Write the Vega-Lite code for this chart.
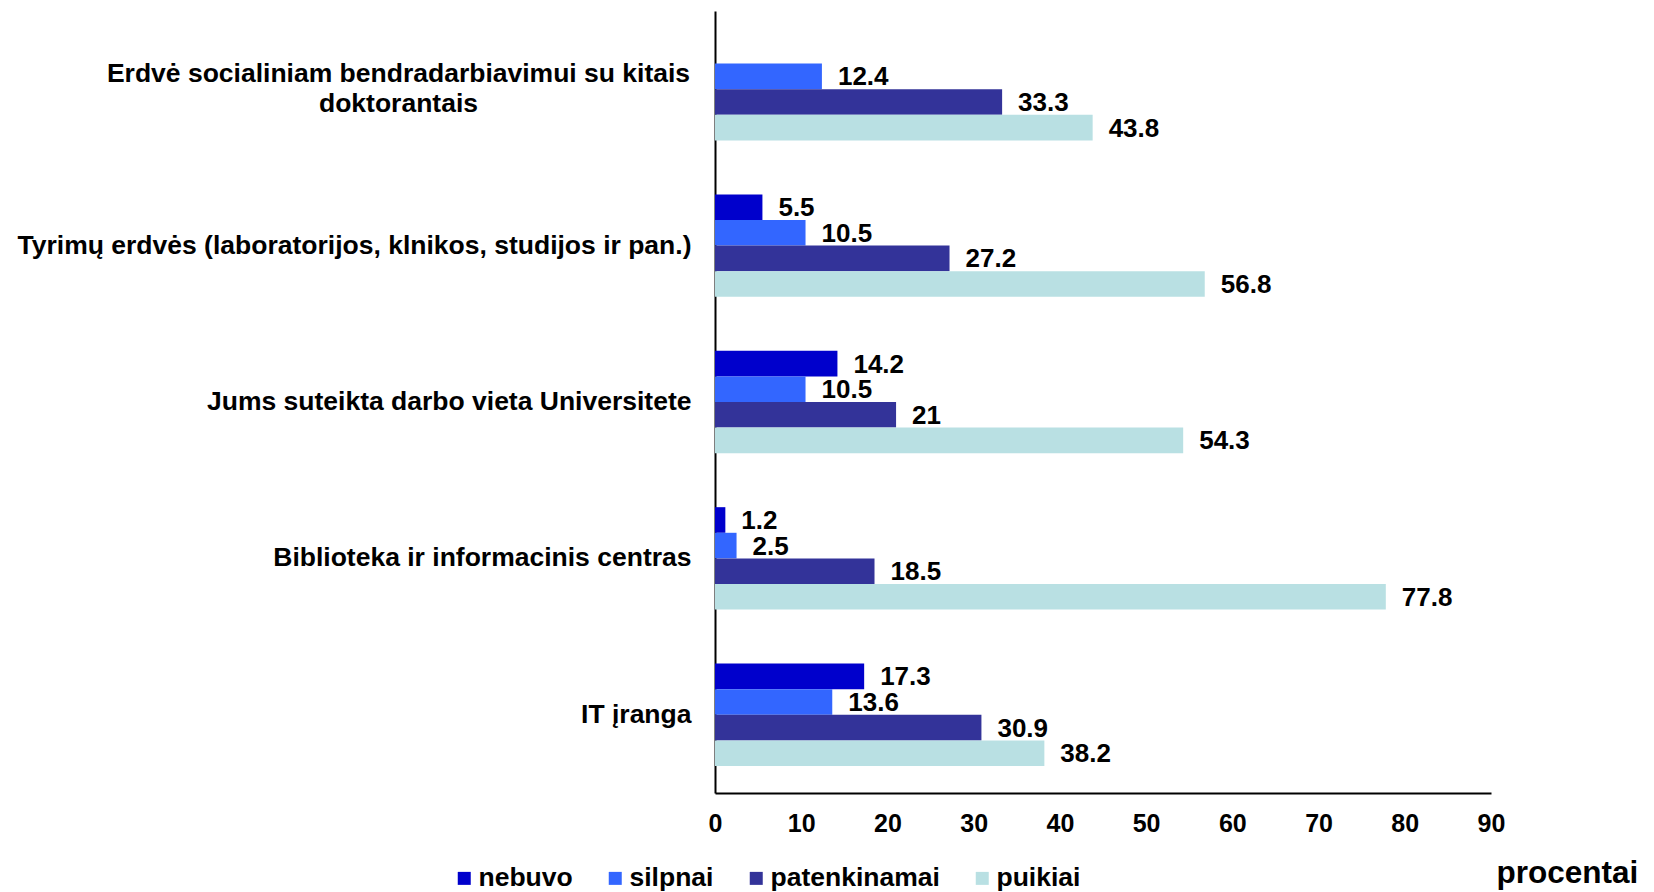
{
  "$schema": "https://vega.github.io/schema/vega-lite/v6.json",
  "width": 776,
  "height": 782,
  "autosize": {"type": "none"},
  "padding": {"left": 715, "top": 11, "right": 163, "bottom": 99},
  "background": "white",
  "config": {
    "view": {"stroke": null},
    "font": "Liberation Sans"
  },
  "data": {
    "values": [
      {"kategorija": "Erdvė socialiniam bendradarbiavimui su kitais doktorantais", "vertinimas": "silpnai", "procentai": 12.4},
      {"kategorija": "Erdvė socialiniam bendradarbiavimui su kitais doktorantais", "vertinimas": "patenkinamai", "procentai": 33.3},
      {"kategorija": "Erdvė socialiniam bendradarbiavimui su kitais doktorantais", "vertinimas": "puikiai", "procentai": 43.8},
      {"kategorija": "Tyrimų erdvės (laboratorijos, klnikos, studijos ir pan.)", "vertinimas": "nebuvo", "procentai": 5.5},
      {"kategorija": "Tyrimų erdvės (laboratorijos, klnikos, studijos ir pan.)", "vertinimas": "silpnai", "procentai": 10.5},
      {"kategorija": "Tyrimų erdvės (laboratorijos, klnikos, studijos ir pan.)", "vertinimas": "patenkinamai", "procentai": 27.2},
      {"kategorija": "Tyrimų erdvės (laboratorijos, klnikos, studijos ir pan.)", "vertinimas": "puikiai", "procentai": 56.8},
      {"kategorija": "Jums suteikta darbo vieta Universitete", "vertinimas": "nebuvo", "procentai": 14.2},
      {"kategorija": "Jums suteikta darbo vieta Universitete", "vertinimas": "silpnai", "procentai": 10.5},
      {"kategorija": "Jums suteikta darbo vieta Universitete", "vertinimas": "patenkinamai", "procentai": 21},
      {"kategorija": "Jums suteikta darbo vieta Universitete", "vertinimas": "puikiai", "procentai": 54.3},
      {"kategorija": "Biblioteka ir informacinis centras", "vertinimas": "nebuvo", "procentai": 1.2},
      {"kategorija": "Biblioteka ir informacinis centras", "vertinimas": "silpnai", "procentai": 2.5},
      {"kategorija": "Biblioteka ir informacinis centras", "vertinimas": "patenkinamai", "procentai": 18.5},
      {"kategorija": "Biblioteka ir informacinis centras", "vertinimas": "puikiai", "procentai": 77.8},
      {"kategorija": "IT įranga", "vertinimas": "nebuvo", "procentai": 17.3},
      {"kategorija": "IT įranga", "vertinimas": "silpnai", "procentai": 13.6},
      {"kategorija": "IT įranga", "vertinimas": "patenkinamai", "procentai": 30.9},
      {"kategorija": "IT įranga", "vertinimas": "puikiai", "procentai": 38.2}
    ]
  },
  "encoding": {
    "y": {
      "field": "kategorija",
      "type": "nominal",
      "sort": null,
      "scale": {
        "domain": [
          "Erdvė socialiniam bendradarbiavimui su kitais doktorantais",
          "Tyrimų erdvės (laboratorijos, klnikos, studijos ir pan.)",
          "Jums suteikta darbo vieta Universitete",
          "Biblioteka ir informacinis centras",
          "IT įranga"
        ],
        "paddingInner": 0.345,
        "paddingOuter": 0.1725
      },
      "axis": {
        "title": null,
        "domainColor": "black",
        "domainWidth": 2,
        "ticks": false,
        "labelFont": "Liberation Sans",
        "labelFontWeight": "bold",
        "labelFontSize": 26.5,
        "labelColor": "black",
        "labelLimit": 900,
        "labelLineHeight": 30,
        "labelExpr": "datum.label == 'Erdvė socialiniam bendradarbiavimui su kitais doktorantais' ? ['Erdvė socialiniam bendradarbiavimui su kitais', 'doktorantais'] : datum.label",
        "labelAlign": {"condition": {"test": "indexof(datum.label, 'Erdvė') == 0", "value": "center"}, "value": "right"},
        "labelPadding": {"condition": {"test": "indexof(datum.label, 'Erdvė') == 0", "value": 317}, "value": 24},
        "labelOffset": {"condition": {"test": "indexof(datum.label, 'Erdvė') == 0", "value": -15}, "value": 0},
        "labelBaseline": "middle"
      }
    },
    "yOffset": {
      "field": "vertinimas",
      "type": "nominal",
      "scale": {"domain": ["nebuvo", "silpnai", "patenkinamai", "puikiai"], "paddingInner": 0, "paddingOuter": 0}
    },
    "x": {
      "field": "procentai",
      "type": "quantitative",
      "scale": {"domain": [0, 90], "nice": false, "zero": true},
      "axis": {
        "values": [0, 10, 20, 30, 40, 50, 60, 70, 80, 90],
        "grid": false,
        "ticks": false,
        "domainColor": "black",
        "domainWidth": 2,
        "labelFont": "Liberation Sans",
        "labelFontWeight": "bold",
        "labelFontSize": 25,
        "labelColor": "black",
        "labelPadding": 18,
        "labelFlush": false,
        "title": "procentai",
        "titleFont": "Liberation Sans",
        "titleFontWeight": "bold",
        "titleFontSize": 31.5,
        "titleColor": "black",
        "titleAlign": "left",
        "titleAnchor": "start",
        "titleX": 781,
        "titleY": 80,
        "titleBaseline": "middle"
      }
    }
  },
  "layer": [
    {
      "mark": {"type": "bar"},
      "encoding": {
        "color": {
          "field": "vertinimas",
          "type": "nominal",
          "scale": {
            "domain": ["nebuvo", "silpnai", "patenkinamai", "puikiai"],
            "range": ["#0000CC", "#3366FF", "#333399", "#B9E0E3"]
          },
          "legend": {
            "title": null,
            "orient": "none",
            "direction": "horizontal",
            "legendX": -264,
            "legendY": 854,
            "symbolType": "square",
            "symbolSize": 169,
            "symbolStrokeWidth": 0,
            "labelFont": "Liberation Sans",
            "labelFontWeight": "bold",
            "labelFontSize": 26.5,
            "labelColor": "black",
            "labelOffset": 1,
            "columnPadding": 29,
            "labelLimit": 300
          }
        }
      }
    },
    {
      "mark": {"type": "text", "align": "left", "baseline": "middle", "dx": 16, "dy": 1, "fontWeight": "bold", "fontSize": 26, "font": "Liberation Sans", "color": "black"},
      "encoding": {
        "text": {"field": "procentai", "type": "quantitative"}
      }
    }
  ]
}
